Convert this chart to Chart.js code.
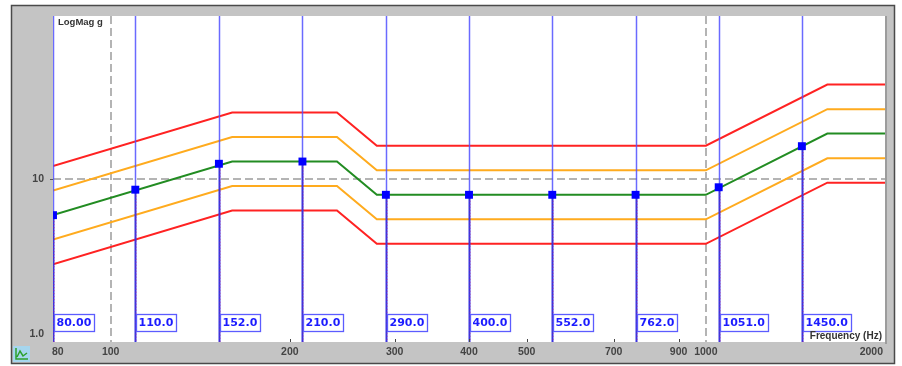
<!DOCTYPE html>
<html>
<head>
<meta charset="utf-8">
<script src="https://cdn.jsdelivr.net/npm/chart.js@4.4.1/dist/chart.umd.min.js"></script>
<style>
  html, body { margin: 0; padding: 0; background: #ffffff; }
  #wrap { width: 902px; height: 366px; position: relative; }
</style>
</head>
<body>
<div id="wrap"><canvas id="c" width="902" height="366"></canvas></div>
<script>
// Sine profile breakpoints (Hz) and levels (g)
const freqBreaks = [80, 160, 240, 280, 1000, 1600, 2000];
const profile    = [6.0, 12.8, 12.8, 8.0, 8.0, 19.0, 19.0];
const alarmHigh  = [8.5, 18.1, 18.1, 11.3, 11.3, 26.8, 26.8];
const alarmLow   = [4.25, 9.05, 9.05, 5.66, 5.66, 13.4, 13.4];
const abortHigh  = [12.0, 25.6, 25.6, 16.0, 16.0, 38.0, 38.0];
const abortLow   = [3.0, 6.4, 6.4, 4.0, 4.0, 9.5, 9.5];

// Cursor markers
const markerFreqs  = [80, 110, 152, 210, 290, 400, 552, 762, 1051, 1450];
const markerLevels = [6.0, 8.6, 12.4, 12.8, 8.0, 8.0, 8.0, 8.0, 8.9, 15.9];
const markerLabels = ["80.00", "110.0", "152.0", "210.0", "290.0", "400.0", "552.0", "762.0", "1051.0", "1450.0"];

// Axis ticks
const xTicks = [80, 100, 200, 300, 400, 500, 700, 900, 1000, 2000];
const xTickLabels = ["80", "100", "200", "300", "400", "500", "700", "900", "1000", "2000"];
const yTicks = [1, 10, 100];
const yTickLabels = ["1.0", "10", ""];
const xGridValues = [100, 1000];
const yGridValues = [10];

const toPoints = (xs, ys) => xs.map((x, i) => ({ x: x, y: ys[i] }));

const RED = '#ff2222', ORANGE = '#ffab1e', GREEN = '#228c22', BLUE = '#0000ff';

const framePlugin = {
  id: 'frame',
  beforeDraw(chart) {
    const ctx = chart.ctx, a = chart.chartArea;
    ctx.save();
    ctx.fillStyle = '#ffffff';
    ctx.fillRect(0, 0, chart.width, chart.height);
    ctx.fillStyle = '#c4c4c4';
    ctx.fillRect(11, 5, 884, 359);
    ctx.strokeStyle = '#4a4a4a';
    ctx.lineWidth = 1.5;
    ctx.strokeRect(11.5, 5.5, 883, 358);
    ctx.fillStyle = '#ffffff';
    ctx.fillRect(a.left, a.top, a.right - a.left, a.bottom - a.top);
    // right separator
    ctx.fillStyle = '#9c9c9c';
    ctx.fillRect(a.right, a.top, 2, a.bottom - a.top + 2);
    // small icon bottom-left
    ctx.fillStyle = '#a6d6ee';
    ctx.fillRect(13, 346, 17, 16);
    ctx.strokeStyle = '#2ca02c';
    ctx.lineWidth = 1.5;
    ctx.beginPath();
    ctx.moveTo(16, 348); ctx.lineTo(16, 359); ctx.lineTo(28, 359);
    ctx.moveTo(17, 357); ctx.lineTo(20, 351); ctx.lineTo(23, 356); ctx.lineTo(27, 353);
    ctx.stroke();
    ctx.restore();
  }
};

const cursorPlugin = {
  id: 'cursors',
  beforeDatasetDraw(chart, args) {
    if (args.index !== 0) return;
    const ctx = chart.ctx, a = chart.chartArea;
    const xs = chart.scales.x, ys = chart.scales.y;
    ctx.save();
    ctx.beginPath();
    ctx.rect(a.left, a.top, a.right - a.left, a.bottom - a.top);
    ctx.clip();
    markerFreqs.forEach((f, i) => {
      const px = Math.round(xs.getPixelForValue(f)) + 0.5;
      const py = ys.getPixelForValue(markerLevels[i]);
      ctx.setLineDash([]);
      ctx.strokeStyle = 'rgba(80,80,255,0.85)';
      ctx.lineWidth = 1.5;
      ctx.beginPath();
      ctx.moveTo(px, a.top); ctx.lineTo(px, py);
      ctx.stroke();
      ctx.strokeStyle = '#3434e0';
      ctx.lineWidth = 2;
      ctx.beginPath();
      ctx.moveTo(px, py); ctx.lineTo(px, a.bottom);
      ctx.stroke();
      ctx.strokeStyle = 'rgba(190,30,140,0.8)';
      ctx.lineWidth = 1;
      ctx.setLineDash([1, 2]);
      ctx.beginPath();
      ctx.moveTo(px + 0.5, py); ctx.lineTo(px + 0.5, a.bottom);
      ctx.stroke();
    });
    ctx.restore();
  },
  afterDatasetsDraw(chart) {
    const ctx = chart.ctx, a = chart.chartArea;
    const xs = chart.scales.x, ys = chart.scales.y;
    ctx.save();
    // cursor readouts
    ctx.font = 'bold 11px "DejaVu Sans"';
    ctx.textBaseline = 'middle';
    ctx.textAlign = 'left';
    markerFreqs.forEach((f, i) => {
      const px = Math.round(xs.getPixelForValue(f));
      const w = Math.ceil(ctx.measureText(markerLabels[i]).width) + 5;
      const top = a.bottom - 28;
      ctx.fillStyle = '#ffffff';
      ctx.fillRect(px + 1, top, w, 17);
      ctx.strokeStyle = '#5c5cff';
      ctx.lineWidth = 1.3;
      ctx.strokeRect(px + 1.5, top + 0.5, w, 17);
      ctx.fillStyle = '#1c1cff';
      ctx.fillText(markerLabels[i], px + 3.5, top + 9);
    });
    // axis titles
    ctx.fillStyle = '#333333';
    ctx.font = 'bold 9.5px "Liberation Sans"';
    ctx.textAlign = 'left';
    ctx.fillText('LogMag g', a.left + 5, a.top + 6);
    ctx.font = 'bold 10px "Liberation Sans"';
    ctx.textAlign = 'right';
    ctx.fillText('Frequency (Hz)', a.right - 3, a.bottom - 6);
    // x tick labels and small ticks
    ctx.fillStyle = '#444444';
    ctx.font = 'bold 10.5px "Liberation Sans"';
    xTicks.forEach((v, i) => {
      const px = xs.getPixelForValue(v);
      if (i === 0) ctx.textAlign = 'left';
      else if (i === xTicks.length - 1) ctx.textAlign = 'right';
      else ctx.textAlign = 'center';
      const tx = i === 0 ? px - 1 : (i === xTicks.length - 1 ? px - 2 : px);
      ctx.fillText(xTickLabels[i], tx, a.bottom + 10);
      if (i > 0 && i < xTicks.length - 1 && xGridValues.indexOf(v) < 0) {
        ctx.fillRect(Math.round(px), a.bottom - 3, 1, 3);
      }
    });
    // y tick labels
    ctx.textAlign = 'right';
    yTicks.forEach((v, i) => {
      if (!yTickLabels[i]) return;
      let py = ys.getPixelForValue(v);
      if (py > a.bottom - 8) py = a.bottom - 8;
      ctx.fillText(yTickLabels[i], a.left - 9, py);
    });
    ctx.fillStyle = '#555555';
    ctx.fillRect(a.left - 3, ys.getPixelForValue(10), 3, 1);
    ctx.restore();
  }
};

new Chart(document.getElementById('c'), {
  type: 'line',
  data: {
    datasets: [
      { label: 'Cursors', type: 'scatter', data: toPoints(markerFreqs, markerLevels),
        pointStyle: 'rect', pointRadius: 5.6, backgroundColor: BLUE, borderColor: BLUE,
        borderWidth: 0, showLine: false, clip: 0 },
      { label: 'Profile', data: toPoints(freqBreaks, profile), borderColor: GREEN },
      { label: 'Alarm high', data: toPoints(freqBreaks, alarmHigh), borderColor: ORANGE },
      { label: 'Alarm low', data: toPoints(freqBreaks, alarmLow), borderColor: ORANGE },
      { label: 'Abort high', data: toPoints(freqBreaks, abortHigh), borderColor: RED },
      { label: 'Abort low', data: toPoints(freqBreaks, abortLow), borderColor: RED }
    ]
  },
  options: {
    responsive: false,
    animation: false,
    events: [],
    layout: { padding: { left: 53, right: 17, top: 16, bottom: 24 } },
    elements: {
      line: { borderWidth: 2, tension: 0, fill: false },
      point: { radius: 0 }
    },
    plugins: { legend: { display: false }, tooltip: { enabled: false } },
    scales: {
      x: {
        type: 'logarithmic', min: 80, max: 2000,
        afterBuildTicks: (s) => { s.ticks = xTicks.map(v => ({ value: v })); },
        ticks: { display: false },
        grid: {
          drawTicks: false, lineWidth: 2,
          color: (c) => (c.tick && xGridValues.indexOf(c.tick.value) >= 0) ? '#b4b4b4' : 'rgba(0,0,0,0)'
        },
        border: { display: false, dash: [8, 4] }
      },
      y: {
        type: 'logarithmic', min: 1, max: 100,
        afterBuildTicks: (s) => { s.ticks = yTicks.map(v => ({ value: v })); },
        ticks: { display: false },
        grid: {
          drawTicks: false, lineWidth: 2,
          color: (c) => (c.tick && yGridValues.indexOf(c.tick.value) >= 0) ? '#b4b4b4' : 'rgba(0,0,0,0)'
        },
        border: { display: false, dash: [8, 4] }
      }
    }
  },
  plugins: [framePlugin, cursorPlugin]
});
</script>
</body>
</html>
